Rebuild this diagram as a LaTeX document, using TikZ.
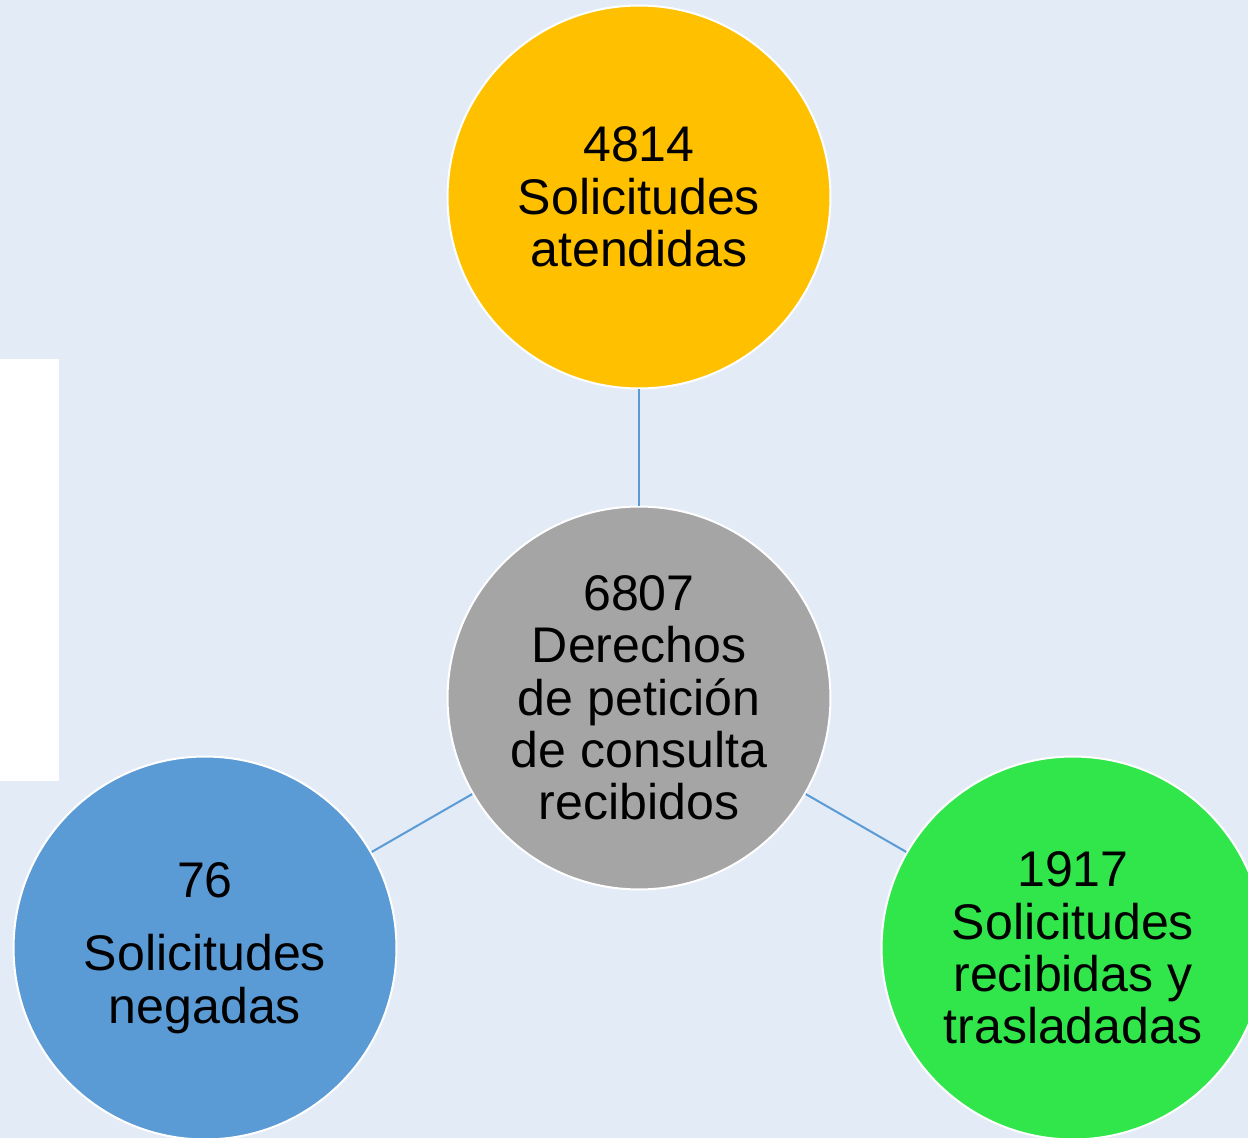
\documentclass[tikz,border=0pt]{standalone}
\usepackage{fontspec}
\setmainfont{Liberation Sans}
\definecolor{bgc}{HTML}{E3EBF7}
\definecolor{cgold}{HTML}{FFC000}
\definecolor{cgray}{HTML}{A5A5A5}
\definecolor{cblue}{HTML}{5B9BD5}
\definecolor{cgreen}{HTML}{31E64B}
\tikzset{
  bubble/.style={circle, draw=white, line width=0.04cm, minimum size=7.66cm, inner sep=0pt,
    align=center, text=black, font=\fontsize{28.5}{29.8}\selectfont},
  conn/.style={draw=cblue, line width=0.04cm}
}
\begin{document}
\begin{tikzpicture}[x=0.02cm, y=-0.02cm]
\useasboundingbox (0,0) rectangle (1248,1138);
\clip (0,0) rectangle (1248,1138);
\fill[bgc] (0,0) rectangle (1248,1138);
\fill[white] (0,359) rectangle (59,781);
\node[bubble, fill=cgold] (top) at (639,197) {4814\\Solicitudes\\atendidas};
\node[bubble, fill=cgray] (mid) at (639,698) {6807\\Derechos\\de petición\\de consulta\\recibidos};
\node[bubble, fill=cblue] (left) at (205,948) {76\\[0.42cm]Solicitudes\\negadas};
\node[bubble, fill=cgreen] (right) at (1073,948) {1917\\Solicitudes\\recibidas y\\trasladadas};
\draw[conn] (mid) -- (top);
\draw[conn] (mid) -- (left);
\draw[conn] (mid) -- (right);
\end{tikzpicture}
\end{document}
